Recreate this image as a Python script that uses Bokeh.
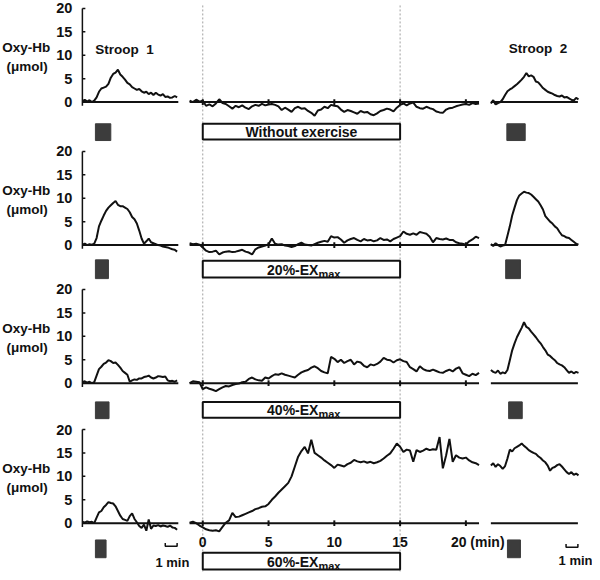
import numpy as np
from bokeh.plotting import figure
from bokeh.models import Range1d
from bokeh.core.properties import value
from bokeh.embed import file_html
from bokeh.resources import INLINE

# ---------------- data ----------------
conditions = ["Without exercise", "20%-EX", "40%-EX", "60%-EX"]
subscripts = ["", "max", "max", "max"]
y_ticks = [0, 5, 10, 15, 20]
ex_ticks = [0, 5, 10, 15, 20]
ex_tick_labels = ["0", "5", "10", "15"]
ex_last_label = "20 (min)"
exercise_start, exercise_end = 0, 15

t_stroop1 = np.arange(41) * 0.2          # minutes
t_stroop2 = np.arange(38) * 0.2
t_ex = -1 + np.arange(89) * 0.25

stroop1_task = [(1.1, 2.4), (1.1, 2.2), (1.1, 2.25), (1.1, 2.0)]
stroop2_task = [(1.35, 2.9), (1.25, 2.5), (1.5, 2.65), (1.4, 2.5)]

stroop1_row0 = [0.2, 0.5, 0.1, 0.4, 0.0, 0.3, 1.0, 2.2, 2.9, 3.1, 3.3, 3.9, 5.2, 6.0, 6.3, 6.9, 5.9, 5.4, 4.8, 4.1,
                3.8, 3.2, 2.9, 2.6, 2.8, 2.3, 2.0, 2.2, 1.7, 2.0, 1.5, 2.0, 1.6, 1.4, 1.7, 1.1, 1.2, 0.9, 1.0, 1.3, 1.0]
stroop1_row1 = [0.1, 0.3, 0.0, 0.2, 0.1, 0.3, 1.5, 4.0, 5.2, 6.3, 7.3, 8.0, 8.5, 9.0, 9.4, 8.6, 8.3, 8.3, 8.0, 7.7,
                7.0, 6.0, 5.5, 4.6, 3.1, 1.4, 0.3, 0.8, 1.4, 0.6, 0.4, 0.2, 0.0, -0.1, -0.3, -0.4, -0.5, -0.7, -0.9, -1.0, -1.4]
stroop1_row2 = [0.2, 0.4, 0.1, 0.3, 0.0, 0.2, 1.6, 3.0, 3.5, 4.1, 4.4, 4.9, 4.7, 4.3, 4.4, 3.9, 3.3, 2.6, 2.2, 1.8,
                0.3, 0.6, 0.8, 0.7, 1.0, 1.0, 1.3, 1.4, 1.6, 1.2, 1.0, 1.2, 1.5, 1.4, 1.3, 1.4, 0.6, 0.4, 0.5, 0.3, 0.6]
stroop1_row3 = [0.3, 0.1, 0.4, 0.2, 0.3, 0.0, 1.2, 2.3, 2.6, 3.4, 3.9, 4.5, 4.3, 4.2, 3.6, 2.6, 1.6, 0.9, 0.7, 0.5,
                1.5, 2.1, 0.9, 0.2, -0.6, -1.0, -0.3, -1.6, 0.8, -1.2, -0.5, -0.6, -0.4, -0.7, -0.5, -0.6, -0.8, -0.5, -0.9, -1.0, -1.4]

stroop2_row0 = [-0.3, 0.4, -0.5, -0.2, 0.0, 0.6, 1.5, 2.3, 2.7, 3.0, 3.4, 3.8, 4.3, 4.8, 5.4, 6.2, 5.5, 5.7, 5.4,
                4.4, 4.2, 3.6, 3.0, 2.6, 2.2, 2.0, 1.8, 1.5, 1.3, 1.2, 1.4, 1.0, 1.1, 0.8, 0.5, 0.3, 0.9, 0.6]
stroop2_row1 = [0.2, -0.2, 0.4, 0.0, -0.3, -0.1, 0.0, 2.0, 4.0, 6.3, 8.0, 9.6, 10.6, 11.0, 11.4, 11.2, 11.1, 10.8, 10.3,
                9.8, 9.3, 8.5, 7.6, 6.2, 5.6, 5.0, 4.6, 4.0, 3.6, 2.8, 2.1, 1.9, 1.6, 1.5, 1.1, 0.7, 0.3, 0.1]
stroop2_row2 = [2.8, 2.4, 2.2, 2.7, 2.0, 2.3, 2.1, 2.8, 4.9, 7.0, 8.5, 9.8, 10.8, 11.8, 13.0, 12.0, 11.7, 11.0, 10.4,
                9.8, 9.1, 8.5, 7.7, 7.0, 6.1, 5.8, 5.3, 4.9, 4.3, 4.0, 3.8, 3.4, 2.8, 2.2, 2.5, 2.1, 2.4, 2.2]
stroop2_row3 = [12.3, 12.8, 12.0, 12.6, 12.2, 11.6, 12.2, 13.8, 15.7, 15.3, 16.0, 16.3, 16.6, 17.0, 16.5, 16.1, 15.6,
                15.3, 15.0, 14.8, 14.3, 13.9, 13.4, 13.0, 12.3, 11.2, 11.8, 12.0, 12.4, 12.6, 12.1, 11.5, 10.9, 10.5,
                10.9, 10.3, 10.6, 10.2]

exercise_row0 = [0.3, 0.0, 0.5, 0.1, 0.3, -0.8, -0.5, -0.9, -0.3, 0.6, -0.2, -0.4, -0.9, -1.4, -0.8, -1.1,
                 -0.7, -1.2, -1.5, -0.9, -0.6, -0.8, -0.4, -0.7, -0.5, -0.4, -0.6, -0.9, -1.7, -1.2, -1.6, -2.1,
                 -1.3, -1.0, -1.4, -1.3, -1.9, -2.3, -2.9, -1.8, -1.6, -1.0, -1.3, -0.6, -0.8, -0.9, -1.6, -2.1,
                 -1.7, -1.9, -2.2, -2.5, -1.9, -2.2, -2.1, -2.6, -2.8, -2.4, -1.9, -1.7, -1.4, -1.6, -2.0, -1.2,
                 -0.6, -0.3, -0.7, -0.3, -0.1, -1.0, -1.3, -1.4, -1.0, -1.3, -1.5, -2.0, -2.2, -2.3, -1.6, -1.3,
                 -1.2, -0.9, -0.7, -0.5, -0.4, -0.6, -0.2, -0.4, -0.3]
exercise_row1 = [0.4, 0.2, 0.3, 0.1, -0.5, -1.2, -1.5, -1.4, -1.2, -2.0, -1.6, -1.4, -1.3, -1.5, -1.4, -1.2,
                 -1.0, -1.4, -1.6, -2.0, -0.9, -0.5, -0.3, -0.1, 0.2, 1.4, 0.3, 0.1, 0.2, -0.1, -0.2, -0.4,
                 -0.2, 0.2, 0.5, 0.1, 0.0, -0.1, 0.2, 0.5, 0.7, 0.9, 0.7, 1.9, 1.6, 1.7, 1.2, 0.5,
                 1.0, 1.3, 1.5, 1.1, 0.8, 1.3, 1.0, 1.1, 0.8, 1.0, 1.5, 1.1, 1.2, 0.8, 1.3, 1.6,
                 1.9, 2.9, 2.4, 2.2, 2.5, 2.2, 2.8, 2.6, 2.4, 1.8, 0.6, 1.5, 1.3, 1.2, 1.4, 1.1,
                 1.1, 0.6, 0.4, 0.3, 0.1, 0.8, 1.2, 1.8, 1.5]
exercise_row2 = [0.0, 0.4, 0.3, 0.2, -1.3, -0.9, -1.2, -1.4, -1.7, -1.3, -0.9, -0.6, -0.7, -0.4, -0.2, -0.1,
                 0.2, 0.3, 0.9, 1.2, 0.8, 0.6, 0.5, 1.2, 1.0, 1.5, 1.9, 1.8, 2.1, 1.8, 1.6, 1.4,
                 1.2, 1.8, 2.3, 2.6, 2.8, 3.3, 3.6, 3.2, 2.6, 2.3, 2.1, 5.6, 5.2, 4.5, 5.0, 4.3,
                 4.7, 5.0, 4.0, 4.6, 4.4, 3.7, 3.4, 4.0, 3.8, 4.1, 4.6, 5.4, 5.0, 4.9, 4.4, 4.9,
                 5.1, 4.7, 4.5, 3.4, 3.0, 2.5, 3.6, 3.0, 2.7, 2.6, 2.9, 2.6, 2.3, 2.2, 2.6, 2.9,
                 2.5, 3.1, 3.4, 2.1, 1.8, 1.5, 2.0, 1.7, 2.2]
exercise_row3 = [0.1, 0.3, 0.0, -0.5, -0.9, -1.3, -1.5, -1.6, -1.5, -1.75, -0.8, 0.1, 0.6, 2.2, 1.3, 1.4,
                 1.7, 2.0, 2.3, 2.6, 3.0, 3.2, 3.5, 3.6, 4.1, 5.0, 5.7, 6.5, 7.2, 7.9, 8.6, 10.0,
                 12.1, 14.2, 15.4, 16.3, 14.9, 17.8, 15.0, 14.5, 14.0, 13.4, 12.9, 12.4, 11.8, 12.5, 12.3, 12.1,
                 12.6, 12.9, 13.5, 13.2, 13.0, 13.2, 12.9, 13.1, 12.8, 13.0, 13.3, 13.8, 14.4, 14.9, 15.9, 17.0,
                 16.3, 15.2, 15.7, 15.5, 13.1, 15.6, 15.2, 15.5, 15.9, 15.6, 15.8, 15.7, 18.4, 11.7, 14.5, 18.0,
                 13.1, 14.5, 14.0, 13.8, 14.0, 13.4, 13.0, 12.8, 12.4]

stroop1_rows = [stroop1_row0, stroop1_row1, stroop1_row2, stroop1_row3]
stroop2_rows = [stroop2_row0, stroop2_row1, stroop2_row2, stroop2_row3]
exercise_rows = [exercise_row0, exercise_row1, exercise_row2, exercise_row3]

# ---------------- layout (page pixel frame of the reference) ----------------
W, H = 592, 572
PAGE_W, PAGE_H = 600, 580
PX_PER_UNIT = 95 / 20
PX_PER_MIN_S = 12.0
PX_PER_MIN_EX = 200 / 15
S1_X0, EX_X0, S2_X0 = 83, 205, 497
ZERO_Y = [103, 248, 388, 530]
SQUARE_Y = [(125, 142), (263, 282), (407, 424), (547, 565)]
BOX_Y = [(125, 141), (264, 281), (407, 423), (560, 577)]
S1_END, S2_END = 8.1, 7.35
EX_T0, EX_T1 = -1.0, 21.0

FONT = value("Liberation Sans")
BLACK = "#111111"

p = figure(width=W, height=H, x_range=Range1d(0, PAGE_W), y_range=Range1d(PAGE_H, 0),
           output_backend="svg", toolbar_location=None, min_border=0,
           x_axis_location=None, y_axis_location=None)
p.xgrid.visible = False
p.ygrid.visible = False
p.outline_line_color = None

p.extra_x_ranges = {
    "s1": Range1d(-S1_X0 / PX_PER_MIN_S, (PAGE_W - S1_X0) / PX_PER_MIN_S),
    "ex": Range1d(-EX_X0 / PX_PER_MIN_EX, (PAGE_W - EX_X0) / PX_PER_MIN_EX),
    "s2": Range1d(-S2_X0 / PX_PER_MIN_S, (PAGE_W - S2_X0) / PX_PER_MIN_S),
}
p.extra_y_ranges = {f"v{r}": Range1d((z - PAGE_H) / PX_PER_UNIT, z / PX_PER_UNIT) for r, z in enumerate(ZERO_Y)}

# exercise period dotted lines
p.segment(x0=[exercise_start, exercise_end], x1=[exercise_start, exercise_end], y0=[5, 5], y1=[PAGE_H, PAGE_H],
          x_range_name="ex", line_color="#a0a0a0", line_width=1, line_dash="2 2")

for r in range(4):
    yr = f"v{r}"
    z = ZERO_Y[r]
    # y axis of stroop 1 panel
    p.segment(x0=[0], x1=[0], y0=[20], y1=[-0.8], x_range_name="s1", y_range_name=yr,
              line_color=BLACK, line_width=1.5)
    p.segment(x0=[0] * 5, x1=[0.25] * 5, y0=y_ticks, y1=y_ticks, x_range_name="s1", y_range_name=yr,
              line_color=BLACK, line_width=1.5)
    p.text(x=[0] * 5, y=y_ticks, text=[str(v) for v in y_ticks], x_offset=-10, x_range_name="s1", y_range_name=yr,
           text_align="right", text_baseline="middle", text_font=FONT, text_font_style="bold",
           text_font_size="14.5px", text_color=BLACK)
    # zero baselines
    p.segment(x0=[0], x1=[S1_END], y0=[0], y1=[0], x_range_name="s1", y_range_name=yr, line_color=BLACK, line_width=2)
    p.segment(x0=[EX_T0], x1=[EX_T1], y0=[0], y1=[0], x_range_name="ex", y_range_name=yr, line_color=BLACK, line_width=2)
    p.segment(x0=[0], x1=[S2_END], y0=[0], y1=[0], x_range_name="s2", y_range_name=yr, line_color=BLACK, line_width=2)
    p.segment(x0=ex_ticks, x1=ex_ticks, y0=[-0.6] * 5, y1=[0.6] * 5, x_range_name="ex", y_range_name=yr,
              line_color=BLACK, line_width=2)
    # traces
    p.line(t_stroop1, stroop1_rows[r], x_range_name="s1", y_range_name=yr, line_color=BLACK, line_width=2)
    p.line(t_ex, exercise_rows[r], x_range_name="ex", y_range_name=yr, line_color=BLACK, line_width=2)
    p.line(t_stroop2, stroop2_rows[r], x_range_name="s2", y_range_name=yr, line_color=BLACK, line_width=2)
    # stroop task markers
    sq_top, sq_bot = SQUARE_Y[r]
    p.quad(left=[stroop1_task[r][0]], right=[stroop1_task[r][1]], top=[sq_top], bottom=[sq_bot],
           x_range_name="s1", fill_color="#3c3c3c", line_color="#3c3c3c")
    p.quad(left=[stroop2_task[r][0]], right=[stroop2_task[r][1]], top=[sq_top], bottom=[sq_bot],
           x_range_name="s2", fill_color="#3c3c3c", line_color="#3c3c3c")
    # exercise box
    b_top, b_bot = BOX_Y[r]
    p.quad(left=[exercise_start], right=[exercise_end], top=[b_top], bottom=[b_bot], x_range_name="ex",
           fill_color="white", line_color=BLACK, line_width=2)
    mid = (exercise_start + exercise_end) / 2
    yc = (b_top + b_bot) / 2 + 0.5
    if subscripts[r]:
        p.text(x=[mid], y=[yc], text=[conditions[r]], x_offset=17, x_range_name="ex",
               text_align="right", text_baseline="middle", text_font=FONT, text_font_style="bold",
               text_font_size="14px", text_color=BLACK)
        p.text(x=[mid], y=[yc + 4], text=[subscripts[r]], x_offset=17, x_range_name="ex",
               text_align="left", text_baseline="middle", text_font=FONT, text_font_style="bold",
               text_font_size="11px", text_color=BLACK)
    else:
        p.text(x=[mid], y=[yc], text=[conditions[r]], x_range_name="ex",
               text_align="center", text_baseline="middle", text_font=FONT, text_font_style="bold",
               text_font_size="14px", text_color=BLACK)
    # y label
    p.text(x=[26, 27], y=[z - 55, z - 36], text=["Oxy-Hb", "(μmol)"], text_align="center",
           text_baseline="middle", text_font=FONT, text_font_style="bold", text_font_size="13.5px",
           text_color=BLACK)

# panel titles
p.text(x=[96, 515], y=[50, 49], text=["Stroop\u00a0 1", "Stroop\u00a0 2"], text_align="left", text_baseline="middle",
       text_font=FONT, text_font_style="bold", text_font_size="13.5px", text_color=BLACK)

# exercise time axis labels (bottom row)
p.text(x=ex_ticks[:4], y=[549] * 4, text=ex_tick_labels, x_range_name="ex", text_align="center",
       text_baseline="middle", text_font=FONT, text_font_style="bold", text_font_size="14px", text_color=BLACK)
p.text(x=[ex_ticks[4]], y=[549], text=[ex_last_label], x_offset=-15, x_range_name="ex", text_align="left",
       text_baseline="middle", text_font=FONT, text_font_style="bold", text_font_size="14px", text_color=BLACK)

# 1-min scale bars
p.multi_line(xs=[[7.0, 7.0, 8.0, 8.0]], ys=[[550, 553.5, 553.5, 550]], x_range_name="s1",
             line_color=BLACK, line_width=1.5)
p.multi_line(xs=[[6.35, 6.35, 7.35, 7.35]], ys=[[551, 554.5, 554.5, 551]], x_range_name="s2",
             line_color=BLACK, line_width=1.5)
p.text(x=[7.6], y=[570], text=["1 min"], x_range_name="s1", text_align="center", text_baseline="middle",
       text_font=FONT, text_font_style="bold", text_font_size="13px", text_color=BLACK)
p.text(x=[7.15], y=[568], text=["1 min"], x_range_name="s2", text_align="center", text_baseline="middle",
       text_font=FONT, text_font_style="bold", text_font_size="13px", text_color=BLACK)

open("out.html", "w").write(file_html(p, INLINE))
